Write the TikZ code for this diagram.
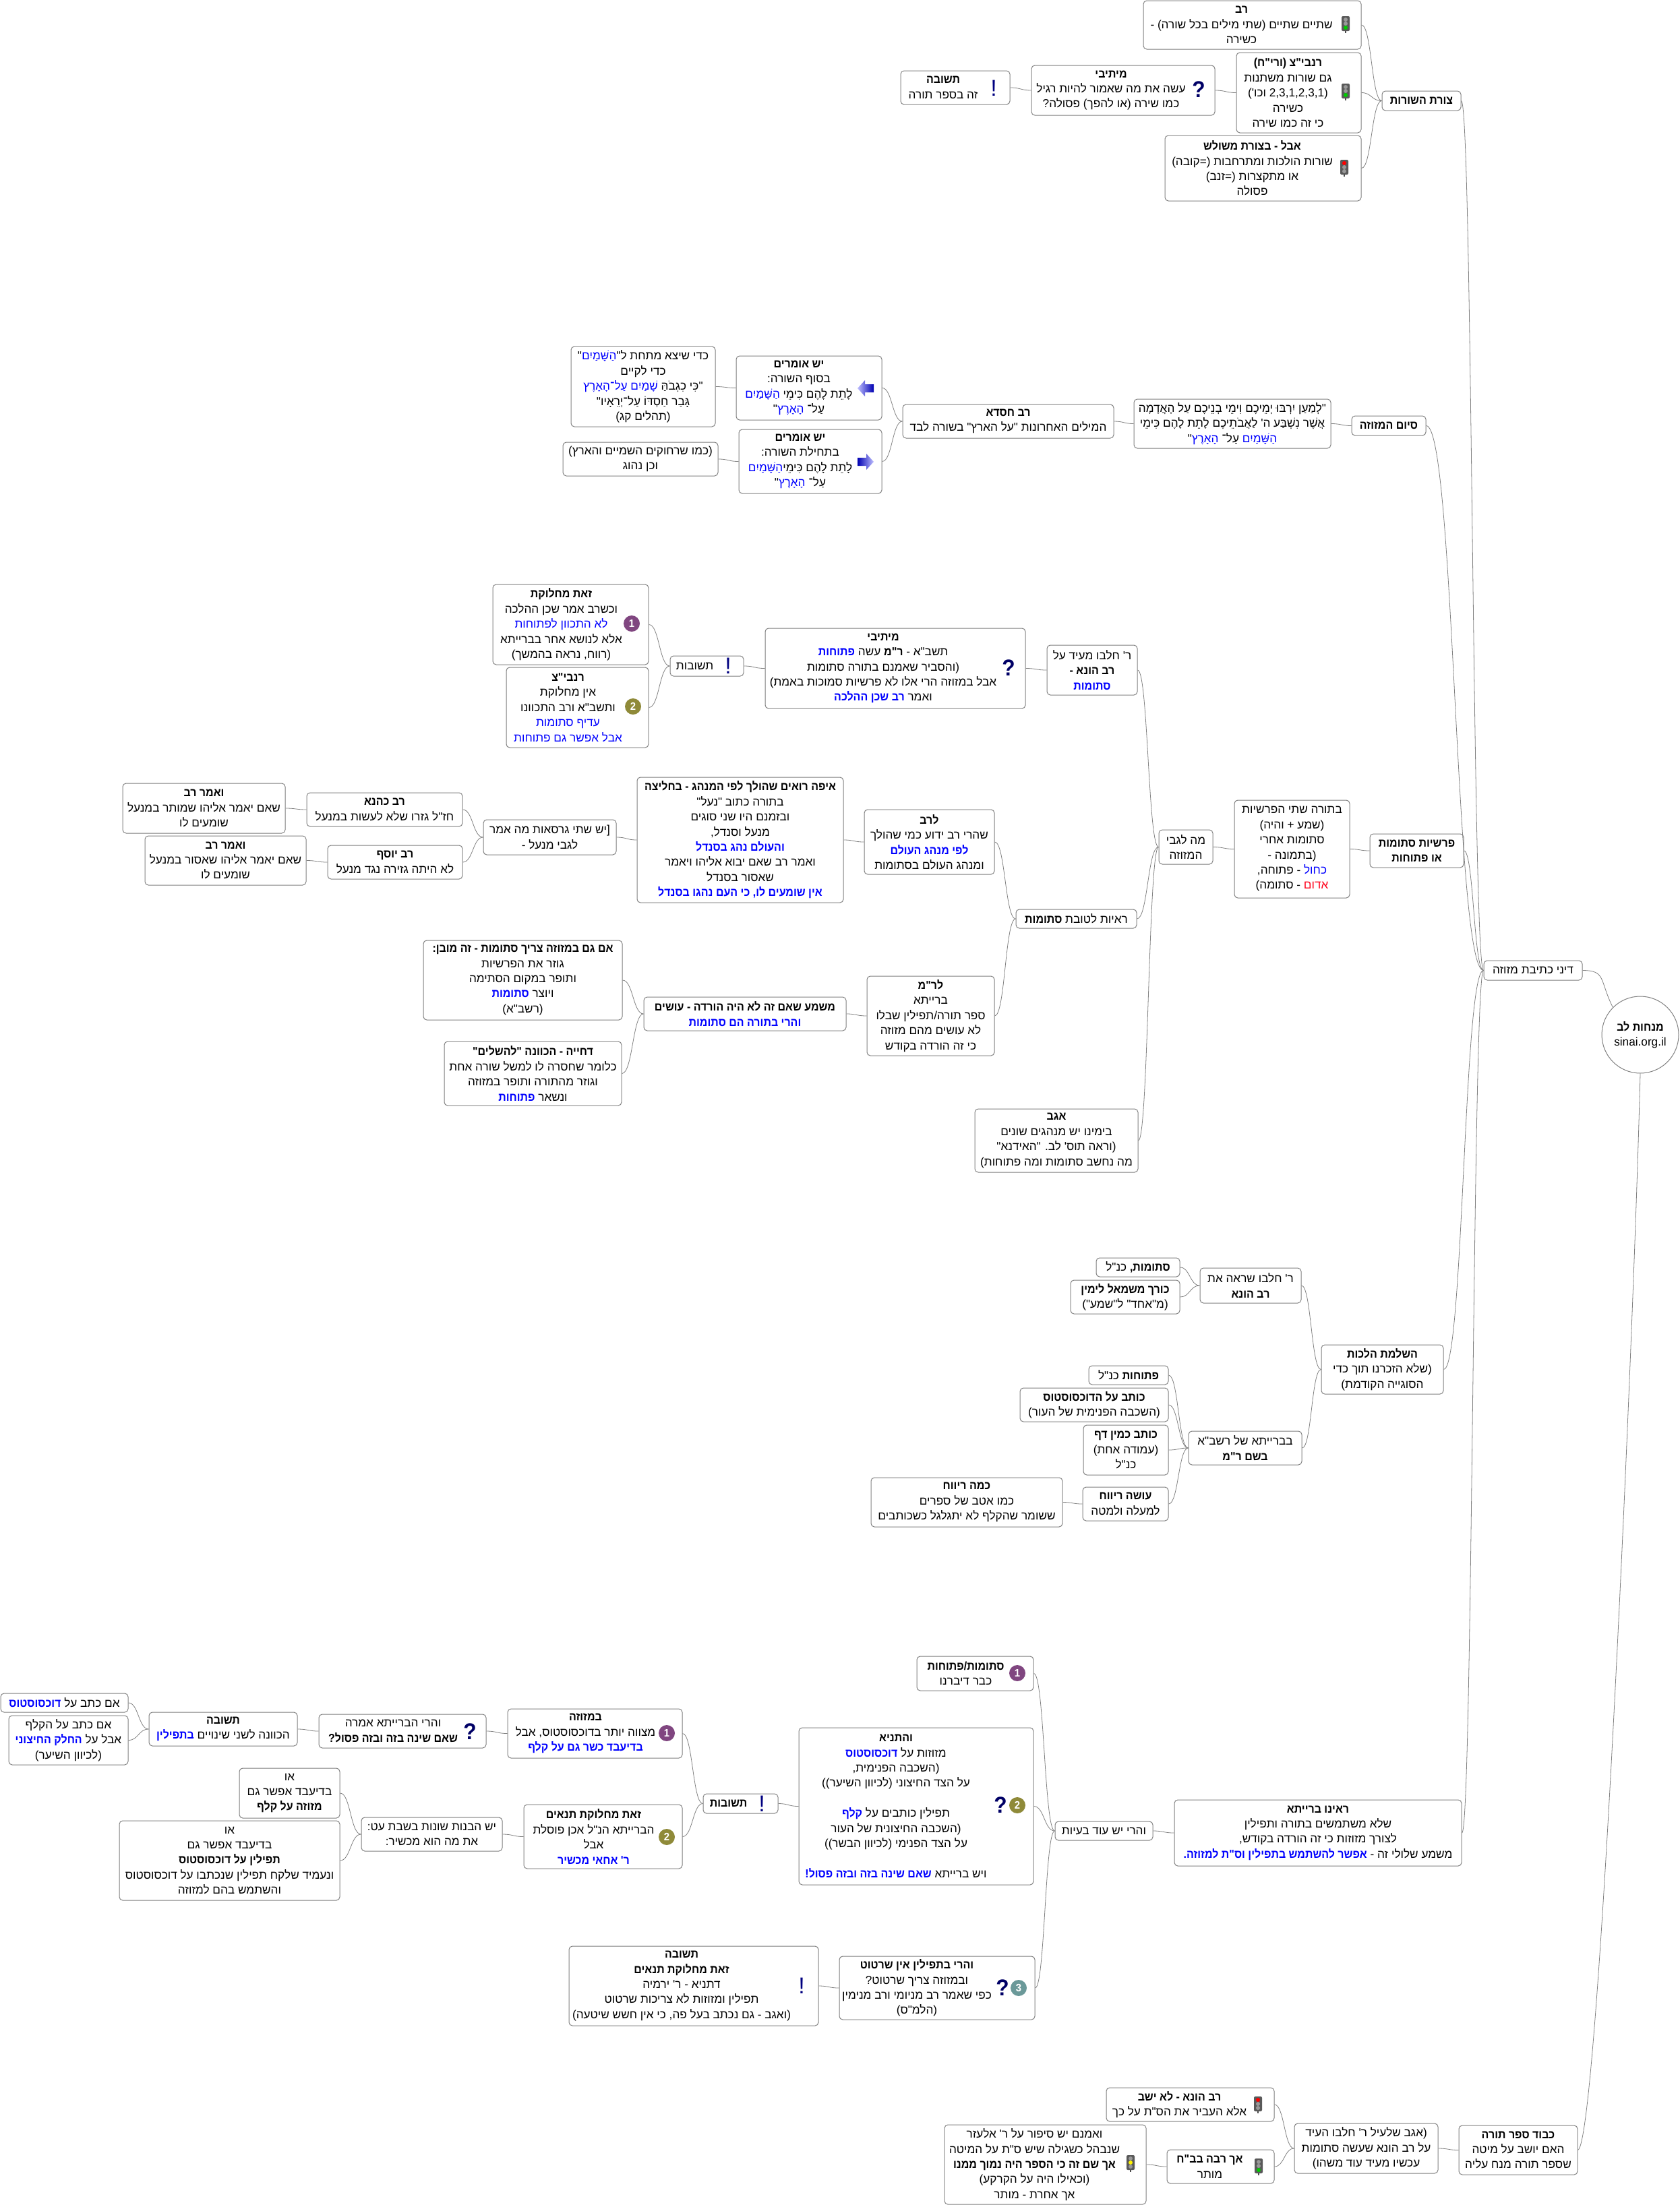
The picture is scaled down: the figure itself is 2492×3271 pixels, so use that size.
\documentclass[tikz,border=0pt]{standalone}
\usepackage{fontspec}
\usepackage{xcolor}
\usetikzlibrary{calc}
\TeXXeTstate=1
\newfontfamily\hebfont[Script=Hebrew,BoldFeatures={FakeStretch=0.93}]{Liberation Sans}
\def\rlshift{0pt}
\newcommand{\rl}[1]{\hbox{\kern-\rlshift\beginR #1\endR}}
% the list of a \beginR line is output backwards, so the colour specials stand in reverse order
\newcommand{\ctext}[2]{\special{color pop}#2\special{color push #1}}
\newcommand{\bl}[1]{\ctext{rgb 0 0 1}{\textbf{#1}}}
\newcommand{\bn}[1]{\ctext{rgb 0 0 1}{#1}}
\newcommand{\rd}[1]{\ctext{rgb 1 0 0.1}{#1}}

\begin{document}
\begin{tikzpicture}[
    x=0.5pt, y=-0.5pt,
    every node/.style={font=\hebfont\fontsize{8.6}{11.2}\selectfont},
    box/.style={rectangle, draw=black!50, line width=0.5pt, rounded corners=2.5pt, align=center, inner sep=0pt, execute at begin node={\gdef\rlshift{0pt}}},
    boxat/.style n args={4}{at={({(#1+#3)/2},{(#2+#4)/2})}, minimum width={(#3-#1)*0.5pt}, minimum height={(#4-#2)*0.5pt}},
    padr/.style={execute at begin node={\gdef\rlshift{#1}}},
    link/.style={draw=gray, line width=0.4pt, to path={.. controls ($(\tikztostart)!0.5!(\tikztotarget |- \tikztostart)$) and ($(\tikztotarget)!0.5!(\tikztostart |- \tikztotarget)$) .. (\tikztotarget)}},
    qicon/.style={text=blue!40!black, inner sep=0pt, font=\hebfont\bfseries\fontsize{17}{17}\selectfont},
    xicon/.style={text=blue!50!black, inner sep=0pt, font=\hebfont\fontsize{17}{17}\selectfont},
    numicon/.style={circle, fill=#1, text=white, minimum size=12pt, inner sep=0pt, font=\hebfont\bfseries\fontsize{8}{8}\selectfont},
    pics/light/.style n args={3}{code={
        \fill[black!65, rounded corners=1pt] (-6,-12) rectangle (6,10);
        \draw[black!70, line width=0.8pt] (0,10) -- (0,13);
        \fill[#1] (0,-7) circle (3);
        \fill[#2] (0,-1) circle (3);
        \fill[#3] (0,5) circle (3);
    }},
    pics/lefticon/.style={code={
        \shade[left color=blue!25, right color=blue!70!black] (-12,0) -- (-1,-12) -- (-1,-6) -- (12,-6) -- (12,6) -- (-1,6) -- (-1,12) -- cycle;
    }},
    pics/righticon/.style={code={
        \shade[left color=blue!70!black, right color=blue!25] (12,0) -- (1,-12) -- (1,-6) -- (-12,-6) -- (-12,6) -- (1,6) -- (1,12) -- cycle;
    }}
]
\useasboundingbox (0,0) rectangle (2492,3271);
\colorlet{numone}{violet!45!gray}
\colorlet{numtwo}{olive!60!gray}
\colorlet{numthree}{teal!45!gray!80}

% Nodes
\node[circle, draw=gray, line width=0.5pt, minimum size=57pt, inner sep=0pt, align=center] (root) at (2433,1535) {\rl{\textbf{מנחות לב}}\\ sinai.org.il};
\node[box, boxat={2201}{1425}{2347}{1454}] (dini) {\rl{דיני כתיבת מזוזה}};

% top branch
\node[box, boxat={2050}{135}{2167}{164}] (tsurat) {\rl{\textbf{צורת השורות}}};
\node[box, padr=16pt, boxat={1696}{1}{2019}{73}] (rav) {\rl{\textbf{רב}}\\ \rl{שתיים שתיים (שתי מילים בכל שורה) -}\\ \rl{כשירה}};
\node[box, padr=16pt, boxat={1834}{78}{2019}{197}] (ranbatz) {\rl{\textbf{רנבי"צ (ורי"ח)}}\\ \rl{גם שורות משתנות}\\ \rl{(2,3,1,2,3,1 וכו')}\\ \rl{כשירה}\\ \rl{כי זה כמו שירה}};
\node[box, padr=16pt, boxat={1728}{201}{2019}{298}] (aval) {\rl{\textbf{אבל - בצורת משולש}}\\ \rl{שורות הולכות ומתרחבות (=קובה)}\\ \rl{או מתקצרות (=זנב)}\\ \rl{פסולה}};
\node[box, padr=18pt, boxat={1530}{97}{1802}{171}] (meitivi) {\rl{\textbf{מיתיבי}}\\ \rl{עשה את מה שאמור להיות רגיל}\\ \rl{כמו שירה (או להפך) פסולה?}};
\node[box, padr=18pt, boxat={1336}{105}{1498}{155}] (teshuva) {\rl{\textbf{תשובה}}\\ \rl{זה בספר תורה}};
\pic at (1996,36) {light={black!40}{black!40}{green!80!black}};
\pic at (1996,136) {light={black!40}{black!40}{green!80!black}};
\pic at (1994,249) {light={red}{black!40}{black!40}};
\node[qicon] (q1) at (1778,133) {?};
\node[xicon] (x1) at (1474,131) {!};

% siyum
\node[box, boxat={2005}{617}{2115}{646}] (siyum) {\rl{\textbf{סיום המזוזה}}};
\node[box, boxat={1682}{592}{1974}{665}] (lemaan) {\rl{"לְמַעַן יִרְבּוּ יְמֵיכֶם וִימֵי בְנֵיכֶם עַל הָאֲדָמָה}\\ \rl{אֲשֶׁר נִשְׁבַּע ה' לַאֲבֹתֵיכֶם לָתֵת לָהֶם כִּימֵי}\\ \rl{\bn{הַשָּׁמַיִם} עַל־ \bn{הָאָרֶץ}"}};
\node[box, boxat={1339}{600}{1652}{650}] (hisda) {\rl{\textbf{רב חסדא}}\\ \rl{המילים האחרונות "על הארץ" בשורה לבד}};
\node[box, padr=15pt, boxat={1092}{528}{1308}{623}] (omrim1) {\rl{\textbf{יש אומרים}}\\ \rl{בסוף השורה:}\\ \rl{לָתֵת לָהֶם כִּימֵי \bn{הַשָּׁמַיִם}}\\ \rl{עַל־ \bn{הָאָרֶץ}"}};
\node[box, padr=15pt, boxat={1096}{637}{1308}{732}] (omrim2) {\rl{\textbf{יש אומרים}}\\ \rl{בתחילת השורה:}\\ \rl{לָתֵת לָהֶם כִּימֵי\bn{הַשָּׁמַיִם}}\\ \rl{עַל־ \bn{הָאָרֶץ}"}};
\node[box, boxat={847}{514}{1061}{633}] (kedei) {\rl{כדי שיצא מתחת ל"\bn{הַשָּׁמַיִם}"}\\ \rl{כדי לקיים}\\ \rl{"כִּי כִגְבֹהַּ \bn{שָׁמַיִם עַל־הָאָרֶץ}}\\ \rl{גָּבַר חַסְדּוֹ עַל־יְרֵאָיו"}\\ \rl{(תהלים קג)}};
\node[box, boxat={835}{656}{1065}{706}] (kemo) {\rl{(כמו שרחוקים השמיים והארץ)}\\ \rl{וכן נהוג}};
\pic at (1284,576) {lefticon};
\pic at (1284,685) {righticon};

% parshiyot
\node[box, boxat={2032}{1237}{2171}{1287}] (parshiyot) {\rl{\textbf{פרשיות סתומות}}\\ \rl{\textbf{או פתוחות}}};
\node[box, boxat={1831}{1187}{2002}{1332}] (batora) {\rl{בתורה שתי הפרשיות}\\ \rl{(שמע + והיה)}\\ \rl{סתומות אחרי}\\ \rl{(בתמונה -}\\ \rl{\bn{כחול} - פתוחה,}\\ \rl{\rd{אדום} - סתומה)}};
\node[box, boxat={1719}{1231}{1799}{1282}] (lagabei) {\rl{מה לגבי}\\ \rl{המזוזה}};
\node[box, boxat={1553}{957}{1687}{1031}] (helbo) {\rl{ר' חלבו מעיד על}\\ \rl{\textbf{רב הונא -}}\\ \rl{\bl{סתומות}}};
\node[box, padr=18pt, boxat={1135}{932}{1521}{1051}] (meitivi2) {\rl{\textbf{מיתיבי}}\\ \rl{תשב"א - \textbf{ר"מ} עשה \bl{פתוחות}}\\ \rl{(והסביר שאמנם בתורה סתומות}\\ \rl{אבל במזוזה הרי אלו לא פרשיות סמוכות באמת)}\\ \rl{ואמר \bl{רב שכן ההלכה}}};
\node[box, padr=18pt, boxat={994}{973}{1103}{1003}] (teshuvot) {\rl{תשובות}};
\node[box, padr=14pt, boxat={731}{867}{962}{986}] (zot) {\rl{\textbf{זאת מחלוקת}}\\ \rl{וכשרב אמר שכן ההלכה}\\ \rl{\bn{לא התכוון לפתוחות}}\\ \rl{אלא לנושא אחר בברייתא}\\ \rl{(רווח, נראה בהמשך)}};
\node[box, padr=14pt, boxat={751}{990}{962}{1109}] (ranbi) {\rl{\textbf{רנבי"צ}}\\ \rl{אין מחלוקת}\\ \rl{ותשב"א ורב התכוונו}\\ \rl{\bn{עדיף סתומות}}\\ \rl{\bn{אבל אפשר גם פתוחות}}};
\node[numicon=numone] (n1) at (937,925) {1};
\node[numicon=numtwo] (n2) at (939,1048) {2};
\node[xicon] (x2) at (1080,988) {!};
\node[qicon] (q2) at (1496,991) {?};

\node[box, boxat={1507}{1349}{1686}{1377}] (reayot) {\rl{ראיות לטובת \textbf{סתומות}}};
\node[box, boxat={1282}{1201}{1475}{1297}] (larav) {\rl{\textbf{לרב}}\\ \rl{שהרי רב ידוע כמי שהולך}\\ \rl{\bl{לפי מנהג העולם}}\\ \rl{ומנהג העולם בסתומות}};
\node[box, boxat={945}{1153}{1251}{1339}] (eifo) {\rl{\textbf{איפה רואים שהולך לפי המנהג - בחליצה}}\\ \rl{בתורה כתוב "נעל"}\\ \rl{ובזמנם היו שני סוגים}\\ \rl{מנעל וסנדל,}\\ \rl{\bl{והעולם נהג בסנדל}}\\ \rl{ואמר רב שאם יבוא אליהו ויאמר}\\ \rl{שאסור בסנדל}\\ \rl{\bl{אין שומעים לו, כי העם נהגו בסנדל}}};
\node[box, boxat={717}{1216}{914}{1268}] (girsaot) {\rl{\lbrack יש שתי גרסאות מה אמר}\\ \rl{לגבי מנעל -}};
\node[box, boxat={455}{1176}{686}{1226}] (kahana) {\rl{\textbf{רב כהנא}}\\ \rl{חז"ל גזרו שלא לעשות במנעל}};
\node[box, boxat={486}{1254}{686}{1304}] (yosef) {\rl{\textbf{רב יוסף}}\\ \rl{לא היתה גזירה נגד מנעל}};
\node[box, boxat={182}{1162}{423}{1236}] (amar1) {\rl{\textbf{ואמר רב}}\\ \rl{שאם יאמר אליהו שמותר במנעל}\\ \rl{שומעים לו}};
\node[box, boxat={215}{1240}{454}{1313}] (amar2) {\rl{\textbf{ואמר רב}}\\ \rl{שאם יאמר אליהו שאסור במנעל}\\ \rl{שומעים לו}};
\node[box, boxat={1286}{1448}{1475}{1566}] (larm) {\rl{\textbf{לר"מ}}\\ \rl{ברייתא}\\ \rl{ספר תורה/תפילין שבלו}\\ \rl{לא עושים מהם מזוזה}\\ \rl{כי זה הורדה בקודש}};
\node[box, boxat={955}{1479}{1255}{1529}] (mashma) {\rl{\textbf{משמע שאם זה לא היה הורדה - עושים}}\\ \rl{\bl{והרי בתורה הם סתומות}}};
\node[box, boxat={628}{1395}{923}{1513}] (imgam) {\rl{\textbf{אם גם במזוזה צריך סתומות - זה מובן:}}\\ \rl{גוזר את הפרשיות}\\ \rl{ותופר במקום הסתימה}\\ \rl{ויוצר \bl{סתומות}}\\ \rl{(רשב"א)}};
\node[box, boxat={659}{1545}{922}{1640}] (dhiya) {\rl{\textbf{דחייה - הכוונה "להשלים"}}\\ \rl{כלומר שחסרה לו למשל שורה אחת}\\ \rl{וגוזר מהתורה ותופר במזוזה}\\ \rl{ונשאר \bl{פתוחות}}};
\node[box, boxat={1446}{1645}{1688}{1739}] (agav) {\rl{\textbf{אגב}}\\ \rl{בימינו יש מנהגים שונים}\\ \rl{(וראה תוס' לב. "האידנא"}\\ \rl{מה נחשב סתומות ומה פתוחות)}};

% hashlama
\node[box, boxat={1960}{1995}{2141}{2068}] (hashlama) {\rl{\textbf{השלמת הלכות}}\\ \rl{(שלא הזכרנו תוך כדי}\\ \rl{הסוגייה הקודמת)}};
\node[box, boxat={1780}{1881}{1930}{1933}] (helbo2) {\rl{ר' חלבו שראה את}\\ \rl{\textbf{רב הונא}}};
\node[box, boxat={1626}{1866}{1750}{1894}] (stumot) {\rl{\textbf{סתומות,} כנ"ל}};
\node[box, boxat={1588}{1899}{1750}{1949}] (korech) {\rl{\textbf{כורך משמאל לימין}}\\ \rl{(מ"אחד" ל"שמע")}};
\node[box, boxat={1763}{2123}{1931}{2173}] (braita) {\rl{בברייתא של רשב"א}\\ \rl{\textbf{בשם ר"מ}}};
\node[box, boxat={1615}{2026}{1733}{2054}] (ptuhot) {\rl{\textbf{פתוחות} כנ"ל}};
\node[box, boxat={1513}{2059}{1733}{2109}] (kotev) {\rl{\textbf{כותב על הדוכסוסטוס}}\\ \rl{(השכבה הפנימית של העור)}};
\node[box, boxat={1607}{2114}{1733}{2188}] (daf) {\rl{\textbf{כותב כמין דף}}\\ \rl{(עמודה אחת)}\\ \rl{כנ"ל}};
\node[box, boxat={1606}{2206}{1733}{2256}] (revah) {\rl{\textbf{עושה ריווח}}\\ \rl{למעלה ולמטה}};
\node[box, boxat={1292}{2192}{1576}{2265}] (kama) {\rl{\textbf{כמה ריווח}}\\ \rl{כמו אטב של ספרים}\\ \rl{ששומר שהקלף לא יתגלגל כשכותבים}};

% reinu
\node[box, boxat={1742}{2670}{2168}{2768}] (reinu) {\rl{\textbf{ראינו ברייתא}}\\ \rl{שלא משתמשים בתורה ותפילין}\\ \rl{לצורך מזוזות כי זה הורדה בקודש,}\\ \rl{משמע שלולי זה - \bl{אפשר להשתמש בתפילין וס"ת למזוזה.}}};
\node[box, boxat={1565}{2702}{1710}{2730}] (baayot) {\rl{והרי יש עוד בעיות}};
\node[box, padr=14pt, boxat={1360}{2457}{1533}{2508}] (stumpt) {\rl{\textbf{סתומות/פתוחות}}\\ \rl{כבר דיברנו}};
\node[box, padr=30pt, boxat={1185}{2563}{1533}{2796}] (vetanya) {\rl{\textbf{והתניא}}\\ \rl{מזוזות על \bl{דוכסוסטוס}}\\ \rl{(השכבה הפנימית,}\\ \rl{על הצד החיצוני (לכיוון השיער))}\\ \rl{\strut}\\ \rl{תפילין כותבים על \bl{קלף}}\\ \rl{(השכבה החיצונית של העור}\\ \rl{על הצד הפנימי (לכיוון הבשר))}\\ \rl{\strut}\\ \rl{ויש ברייתא \bl{שאם שינה בזה ובזה פסול!}}};
\node[box, padr=30pt, boxat={1245}{2902}{1535}{2996}] (sirtut) {\rl{\textbf{והרי בתפילין אין שרטוט}}\\ \rl{ובמזוזה צריך שרטוט?}\\ \rl{כפי שאמר רב מניומי ורב מנימין}\\ \rl{(הלמ"ס)}};
\node[box, padr=18pt, boxat={844}{2887}{1214}{3005}] (teshuva3) {\rl{\textbf{תשובה}}\\ \rl{\textbf{זאת מחלוקת תנאים}}\\ \rl{דתניא - ר' ירמיה}\\ \rl{תפילין ומזוזות לא צריכות שרטוט}\\ \rl{(ואגב - גם נכתב בעל פה, כי אין חשש שיטעה)}};
\node[box, padr=18pt, boxat={1043}{2661}{1154}{2690}] (teshuvot2) {\rl{\textbf{תשובות}}};
\node[box, padr=14pt, boxat={753}{2535}{1012}{2608}] (bamezuza) {\rl{\textbf{במזוזה}}\\ \rl{מצווה יותר בדוכסוסטוס, אבל}\\ \rl{\bl{בדיעבד כשר גם על קלף}}};
\node[box, padr=14pt, boxat={473}{2543}{721}{2593}] (vaharei) {\rl{והרי הברייתא אמרה}\\ \rl{\textbf{שאם שינה בזה ובזה פסול?}}};
\node[box, boxat={221}{2540}{441}{2590}] (teshuva2) {\rl{\textbf{תשובה}}\\ \rl{הכוונה לשני שינויים \bl{בתפילין}}};
\node[box, boxat={1}{2512}{190}{2540}] (imkatav1) {\rl{אם כתב על \bl{דוכסוסטוס}}};
\node[box, boxat={13}{2545}{190}{2618}] (imkatav2) {\rl{אם כתב על הקלף}\\ \rl{אבל על \bl{החלק החיצוני}}\\ \rl{(לכיוון השיער)}};
\node[box, padr=14pt, boxat={777}{2677}{1012}{2772}] (tanaim) {\rl{\textbf{זאת מחלוקת תנאים}}\\ \rl{הברייתא הנ"ל אכן פוסלת}\\ \rl{אבל}\\ \rl{\bl{ר' אחאי מכשיר}}};
\node[box, boxat={536}{2696}{745}{2746}] (havanot) {\rl{יש הבנות שונות בשבת עט:}\\ \rl{את מה הוא מכשיר:}};
\node[box, boxat={355}{2623}{504}{2697}] (o1) {\rl{או}\\ \rl{בדיעבד אפשר גם}\\ \rl{\textbf{מזוזה על קלף}}};
\node[box, boxat={177}{2701}{504}{2819}] (o2) {\rl{או}\\ \rl{בדיעבד אפשר גם}\\ \rl{\textbf{תפילין על דוכסוסטוס}}\\ \rl{ונעמיד שלקח תפילין שנכתבו על דוכסוסטוס}\\ \rl{והשתמש בהם למזוזה}};
\node[numicon=numone] (n3) at (1509,2482) {1};
\node[numicon=numtwo] (n4) at (1509,2678) {2};
\node[numicon=numthree] (n5) at (1511,2949) {3};
\node[numicon=numone] (n6) at (989,2571) {1};
\node[numicon=numtwo] (n7) at (989,2725) {2};
\node[qicon] (q3) at (1484,2678) {?};
\node[qicon] (q4) at (1487,2949) {?};
\node[qicon] (q5) at (697,2569) {?};
\node[xicon] (x3) at (1130,2676) {!};
\node[xicon] (x4) at (1189,2946) {!};

% kavod
\node[box, boxat={2164}{3153}{2340}{3226}] (kavod) {\rl{\textbf{כבוד ספר תורה}}\\ \rl{האם יושב על מיטה}\\ \rl{שספר תורה מנח עליה}};
\node[box, boxat={1920}{3150}{2133}{3224}] (shelail) {\rl{(אגב שלעיל ר' חלבו העיד}\\ \rl{על רב הונא שעשה סתומות}\\ \rl{עכשיו מעיד עוד משהו)}};
\node[box, padr=16pt, boxat={1641}{3097}{1890}{3147}] (huna) {\rl{\textbf{רב הונא - לא ישב}}\\ \rl{אלא העביר את הס"ת על כך}};
\node[box, padr=16pt, boxat={1731}{3189}{1890}{3239}] (raba) {\rl{\textbf{אך רבה בב"ח}}\\ \rl{מותר}};
\node[box, padr=16pt, boxat={1401}{3152}{1700}{3270}] (omnam) {\rl{ואמנם יש סיפור על ר' אלעזר}\\ \rl{שנבהל כשגילה שיש ס"ת על המיטה}\\ \rl{\textbf{אך שם זה כי הספר היה נמוך ממנו}}\\ \rl{(וכאילו היה על הקרקע)}\\ \rl{אך אחרת - מותר}};
\pic at (1866,3122) {light={red}{black!40}{black!40}};
\pic at (1867,3214) {light={black!40}{black!40}{green!80!black}};
\pic at (1677,3209) {light={black!40}{yellow}{black!40}};

% Arrows
\draw[draw=gray, line width=0.4pt] (dini.east) .. controls +(35,0) and +(-20,-40) .. (root.135);
\draw[draw=gray, line width=0.4pt] (kavod.east) .. controls +(30,-10) and +(-10,400) .. (root.south);
\draw[link] (tsurat.east) to (dini.west);
\draw[link] (siyum.east) to (dini.west);
\draw[link] (parshiyot.east) to (dini.west);
\draw[link] (hashlama.east) to (dini.west);
\draw[link] (reinu.east) to (dini.west);
\draw[link] (rav.east) to (tsurat.west);
\draw[link] (ranbatz.east) to (tsurat.west);
\draw[link] (aval.east) to (tsurat.west);
\draw[link] (meitivi.east) to (ranbatz.west);
\draw[link] (teshuva.east) to (meitivi.west);
\draw[link] (lemaan.east) to (siyum.west);
\draw[link] (hisda.east) to (lemaan.west);
\draw[link] (omrim1.east) to (hisda.west);
\draw[link] (omrim2.east) to (hisda.west);
\draw[link] (kedei.east) to (omrim1.west);
\draw[link] (kemo.east) to (omrim2.west);
\draw[link] (batora.east) to (parshiyot.west);
\draw[link] (lagabei.east) to (batora.west);
\draw[link] (helbo.east) to (lagabei.west);
\draw[link] (reayot.east) to (lagabei.west);
\draw[link] (agav.east) to (lagabei.west);
\draw[link] (meitivi2.east) to (helbo.west);
\draw[link] (teshuvot.east) to (meitivi2.west);
\draw[link] (zot.east) to (teshuvot.west);
\draw[link] (ranbi.east) to (teshuvot.west);
\draw[link] (larav.east) to (reayot.west);
\draw[link] (larm.east) to (reayot.west);
\draw[link] (eifo.east) to (larav.west);
\draw[link] (girsaot.east) to (eifo.west);
\draw[link] (kahana.east) to (girsaot.west);
\draw[link] (yosef.east) to (girsaot.west);
\draw[link] (amar1.east) to (kahana.west);
\draw[link] (amar2.east) to (yosef.west);
\draw[link] (mashma.east) to (larm.west);
\draw[link] (imgam.east) to (mashma.west);
\draw[link] (dhiya.east) to (mashma.west);
\draw[link] (helbo2.east) to (hashlama.west);
\draw[link] (braita.east) to (hashlama.west);
\draw[link] (stumot.east) to (helbo2.west);
\draw[link] (korech.east) to (helbo2.west);
\draw[link] (ptuhot.east) to (braita.west);
\draw[link] (kotev.east) to (braita.west);
\draw[link] (daf.east) to (braita.west);
\draw[link] (revah.east) to (braita.west);
\draw[link] (kama.east) to (revah.west);
\draw[link] (baayot.east) to (reinu.west);
\draw[link] (stumpt.east) to (baayot.west);
\draw[link] (vetanya.east) to (baayot.west);
\draw[link] (sirtut.east) to (baayot.west);
\draw[link] (teshuvot2.east) to (vetanya.west);
\draw[link] (teshuva3.east) to (sirtut.west);
\draw[link] (bamezuza.east) to (teshuvot2.west);
\draw[link] (tanaim.east) to (teshuvot2.west);
\draw[link] (vaharei.east) to (bamezuza.west);
\draw[link] (teshuva2.east) to (vaharei.west);
\draw[link] (imkatav1.east) to (teshuva2.west);
\draw[link] (imkatav2.east) to (teshuva2.west);
\draw[link] (havanot.east) to (tanaim.west);
\draw[link] (o1.east) to (havanot.west);
\draw[link] (o2.east) to (havanot.west);
\draw[link] (shelail.east) to (kavod.west);
\draw[link] (huna.east) to (shelail.west);
\draw[link] (raba.east) to (shelail.west);
\draw[link] (omnam.east) to (raba.west);

\end{tikzpicture}
\end{document}
